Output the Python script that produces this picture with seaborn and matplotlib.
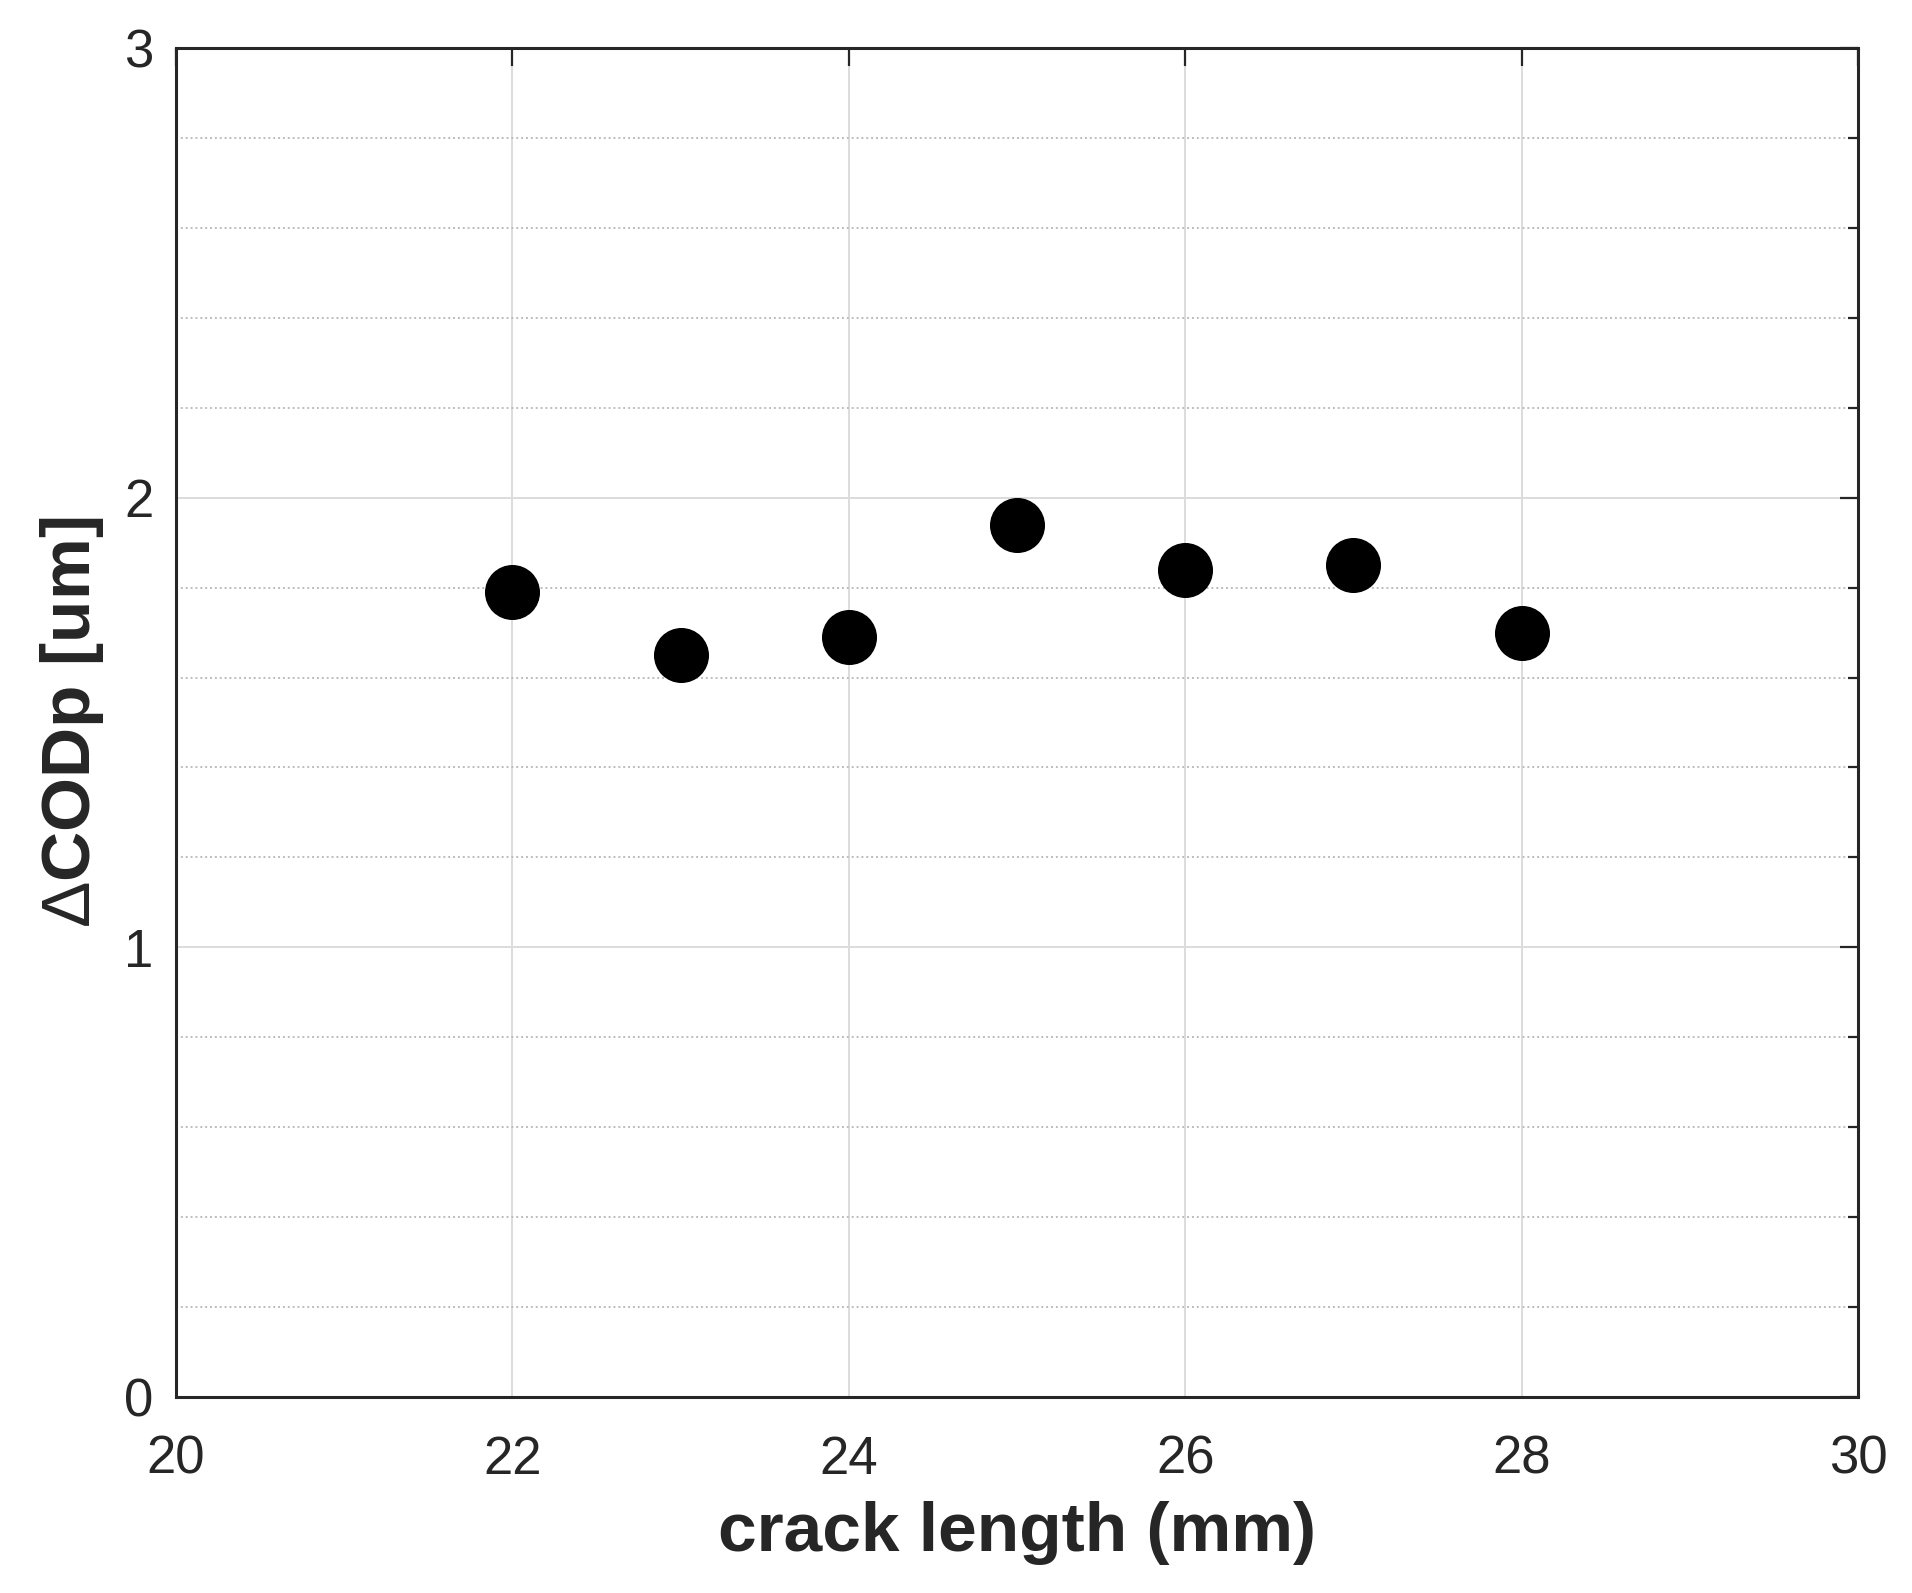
import numpy as np
import pandas as pd
import seaborn as sns
import matplotlib.pyplot as plt
from matplotlib.ticker import MultipleLocator

# crack length (mm) vs delta COD (um)
crack_length = [22, 23, 24, 25, 26, 27, 28]
dcod = [1.79, 1.65, 1.69, 1.94, 1.84, 1.85, 1.70]

x_ticks = [20, 22, 24, 26, 28, 30]
y_ticks = [0, 1, 2, 3]

df = pd.DataFrame({'a': crack_length, 'dcod': dcod})

sns.set_style('white')
plt.rcParams['font.family'] = ['Liberation Sans', 'DejaVu Sans']
plt.rcParams['mathtext.fontset'] = 'custom'
plt.rcParams['mathtext.rm'] = 'Liberation Sans'

fig = plt.figure(figsize=(19.12, 15.93), dpi=100)
ax = fig.add_axes([0.0921, 0.1230, 0.8797, 0.8469])

# grid first so points sit on top
ax.set_axisbelow(True)
ax.yaxis.set_minor_locator(MultipleLocator(0.2))
ax.grid(True, which='major', color='#dcdcdc', lw=1.4, ls='-')
ax.grid(True, which='minor', axis='y', color='#bdbdbd', lw=1.4, ls=(0, (1, 1.5)))

sns.scatterplot(data=df, x='a', y='dcod', ax=ax, color='black', s=1570,
                edgecolor='black', linewidth=0, zorder=3, legend=False)

ax.set_xlim(20, 30)
ax.set_ylim(0, 3)
ax.set_xticks(x_ticks)
ax.set_yticks(y_ticks)

dark = '#262626'
for sp in ax.spines.values():
    sp.set_color(dark)
    sp.set_linewidth(2.2)

ax.tick_params(which='both', direction='in', top=True, right=True,
               colors=dark, labelsize=38, width=1.6)
ax.tick_params(which='major', length=13)
ax.tick_params(which='minor', length=7)
ax.tick_params(axis='x', which='major', pad=27)
ax.tick_params(axis='y', which='major', pad=16.5)
ax.tick_params(axis='x', which='minor', bottom=False, top=False)

ax.set_xlabel('crack length (mm)', fontsize=50, fontweight='bold', color=dark, labelpad=12)
ax.set_ylabel('$\\Delta$CODp [um]', fontsize=50, fontweight='bold', color=dark, labelpad=13)

fig.savefig('out.png', dpi=100)
